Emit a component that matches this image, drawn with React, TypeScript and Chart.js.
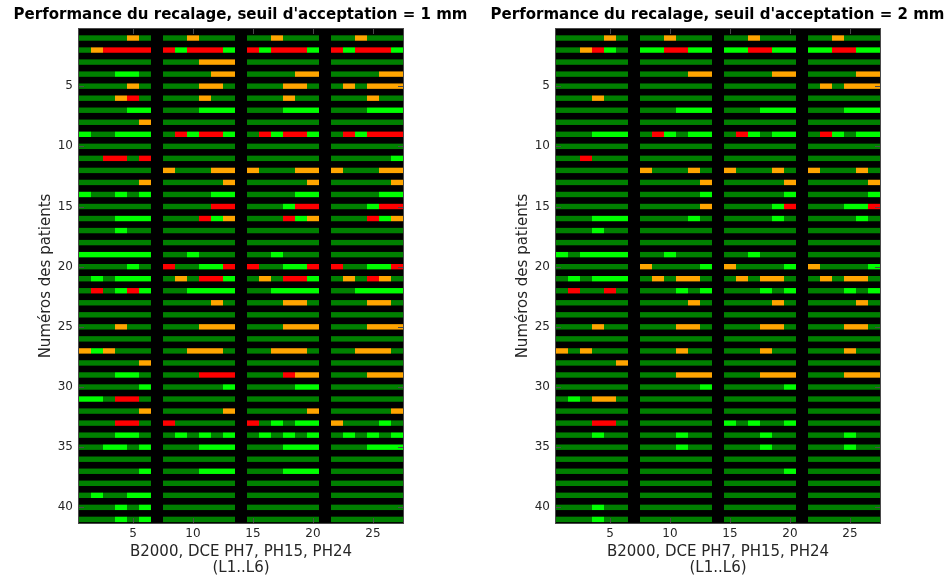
import React, { useEffect, useRef } from 'react';
import { Chart, registerables } from 'chart.js';

Chart.register(...registerables);

// Colour codes: G = OK (dark green), L = bright green, O = orange, R = red, '.' = black separator column
const PALETTE: Record<string, string> = { G: '#008000', L: '#00ff00', O: '#ffa500', R: '#ff0000' };

const xTicks = [5, 10, 15, 20, 25];
const yTicks = [5, 10, 15, 20, 25, 30, 35, 40];

const title1 = "Performance du recalage, seuil d'acceptation = 1 mm";
const title2 = "Performance du recalage, seuil d'acceptation = 2 mm";
const xLabel = ['B2000, DCE PH7, PH15, PH24', '(L1..L6)'];
const yLabel = 'Numéros des patients';

// Threshold 1 mm : one string per patient (27 columns)
const rows1mm = [
  'GGGGOG.GGOGGG.GGOGGG.GGOGGG',
  'GORRRR.RLRRRL.RLRRRL.RLRRRL',
  'GGGGGG.GGGOOO.GGGGGG.GGGGGG',
  'GGGLLG.GGGGOO.GGGGOO.GGGGOO',
  'GGGGOG.GGGOOG.GGGOOG.GOGOOO',
  'GGGORG.GGGOGG.GGGOGG.GGGOGG',
  'GGGGLL.GGGLLL.GGGLLL.GGGLLL',
  'GGGGGO.GGGGGG.GGGGGG.GGGGGG',
  'LGGLLL.GRLRRL.GRLRRL.GRLRRR',
  'GGGGGG.GGGGGG.GGGGGG.GGGGGG',
  'GGRRGR.GGGGGG.GGGGGG.GGGGGL',
  'GGGGGG.OGGGOO.OGGGOO.OGGGOO',
  'GGGGGO.GGGGGO.GGGGGO.GGGGGO',
  'LGGLGL.GGGGLL.GGGGLL.GGGGLL',
  'GGGGGG.GGGGRR.GGGLRR.GGGLRR',
  'GGGLLL.GGGRLO.GGGRLO.GGGRLO',
  'GGGLGG.GGGGGG.GGGGGG.GGGGGG',
  'GGGGGG.GGGGGG.GGGGGG.GGGGGG',
  'LLLLLL.GGLGGG.GGLGGG.GGGGGG',
  'GGGGLG.RGGLLR.RGGLLR.RGGLLR',
  'GLGLLL.GOGRRL.GOGRRL.GOGROG',
  'GRGLRL.GGLLLL.GGLLLL.GGLLLL',
  'GGGGGG.GGGGOG.GGGOOG.GGGOOG',
  'GGGGGG.GGGGGG.GGGGGG.GGGGGG',
  'GGGOGG.GGGOOO.GGGOOO.GGGOOO',
  'GGGGGG.GGGGGG.GGGGGG.GGGGGG',
  'OLOGGG.GGOOOG.GGOOOG.GGOOOG',
  'GGGGGO.GGGGGG.GGGGGG.GGGGGG',
  'GGGLLG.GGGRRR.GGGROO.GGGOOO',
  'GGGGGL.GGGGGL.GGGGLL.GGGGGG',
  'LLGRRG.GGGGGG.GGGGGG.GGGGGG',
  'GGGGGO.GGGGGO.GGGGGO.GGGGGO',
  'GGGRRG.RGGGGG.RGLGLL.OGGGLG',
  'GGGLLG.GLGLGL.GLGLGL.GLGLGL',
  'GGLLGL.GGGLLL.GGGLLL.GGGLLL',
  'GGGGGG.GGGGGG.GGGGGG.GGGGGG',
  'GGGGGL.GGGLLL.GGGLLL.GGGGGG',
  'GGGGGG.GGGGGG.GGGGGG.GGGGGG',
  'GLGGLL.GGGGGG.GGGGGG.GGGGGG',
  'GGGLGL.GGGGGG.GGGGGG.GGGGGG',
  'GGGLGL.GGGGGG.GGGGGG.GGGGGG',
];

// Threshold 2 mm
const rows2mm = [
  'GGGGOG.GGOGGG.GGOGGG.GGOGGG',
  'GGORLG.LLRRLL.LLRRLL.LLRRLL',
  'GGGGGG.GGGGGG.GGGGGG.GGGGGG',
  'GGGGGG.GGGGOO.GGGGOO.GGGGOO',
  'GGGGGG.GGGGGG.GGGGGG.GOGOOO',
  'GGGOGG.GGGGGG.GGGGGG.GGGGGG',
  'GGGGGG.GGGLLL.GGGLLL.GGGLLL',
  'GGGGGG.GGGGGG.GGGGGG.GGGGGG',
  'GGGLLL.GRLGLL.GRLGLL.GRLGLL',
  'GGGGGG.GGGGGG.GGGGGG.GGGGGG',
  'GGRGGG.GGGGGG.GGGGGG.GGGGGG',
  'GGGGGG.OGGGOG.OGGGOG.OGGGOG',
  'GGGGGG.GGGGGO.GGGGGO.GGGGGO',
  'GGGGGG.GGGGGL.GGGGGL.GGGGGL',
  'GGGGGG.GGGGGO.GGGGLR.GGGLLR',
  'GGGLLL.GGGGLG.GGGGLG.GGGGLG',
  'GGGLGG.GGGGGG.GGGGGG.GGGGGG',
  'GGGGGG.GGGGGG.GGGGGG.GGGGGG',
  'LGLLLL.GGLGGG.GGLGGG.GGGGGG',
  'GGGGGG.OGGGGL.OGGGGL.OGGGGL',
  'GLGLLL.GOGOOG.GOGOOG.GOGOOG',
  'GRGGRG.GGGLGL.GGGLGL.GGGLGL',
  'GGGGGG.GGGGOG.GGGGOG.GGGGOG',
  'GGGGGG.GGGGGG.GGGGGG.GGGGGG',
  'GGGOGG.GGGOOG.GGGOOG.GGGOOG',
  'GGGGGG.GGGGGG.GGGGGG.GGGGGG',
  'OGOGGG.GGGOGG.GGGOGG.GGGOGG',
  'GGGGGO.GGGGGG.GGGGGG.GGGGGG',
  'GGGGGG.GGGOOO.GGGOOO.GGGOOO',
  'GGGGGG.GGGGGL.GGGGGL.GGGGGG',
  'GLGOOG.GGGGGG.GGGGGG.GGGGGG',
  'GGGGGG.GGGGGG.GGGGGG.GGGGGG',
  'GGGRRG.GGGGGG.LGLGGL.GGGGGG',
  'GGGLGG.GGGLGG.GGGLGG.GGGLGG',
  'GGGGGG.GGGLGG.GGGLGG.GGGLGG',
  'GGGGGG.GGGGGG.GGGGGG.GGGGGG',
  'GGGGGG.GGGGGG.GGGGGL.GGGGGG',
  'GGGGGG.GGGGGG.GGGGGG.GGGGGG',
  'GGGGGG.GGGGGG.GGGGGG.GGGGGG',
  'GGGLGG.GGGGGG.GGGGGG.GGGGGG',
  'GGGLGG.GGGGGG.GGGGGG.GGGGGG',
];

const FONT = "'DejaVu Sans', sans-serif";
const TEXT = '#262626';
const FRAME = '#4a4a4a';
const CANVAS_W = 481;
const CANVAS_H = 581;

function buildCells(rows: string[]) {
  const data: { x: [number, number]; y: number }[] = [];
  const colors: string[] = [];
  rows.forEach((row, i) => {
    for (let c = 0; c < row.length; c++) {
      const k = row[c];
      if (!PALETTE[k]) continue;
      data.push({ x: [c + 0.5, c + 1.5], y: i + 1 });
      colors.push(PALETTE[k]);
    }
  });
  return { data, colors };
}

const framePlugin = {
  id: 'frame',
  beforeDatasetsDraw(chart: any) {
    const { ctx, chartArea: a } = chart;
    ctx.save();
    ctx.fillStyle = '#000';
    ctx.fillRect(a.left, a.top, a.right - a.left, a.bottom - a.top);
    ctx.restore();
  },
  afterDatasetsDraw(chart: any) {
    const { ctx, chartArea: a, scales } = chart;
    const L = 5;
    ctx.save();
    ctx.strokeStyle = FRAME;
    ctx.lineWidth = 1;
    ctx.beginPath();
    for (const v of xTicks) {
      const px = Math.round(scales.x.getPixelForValue(v)) + 0.5;
      ctx.moveTo(px, a.bottom);
      ctx.lineTo(px, a.bottom - L);
      ctx.moveTo(px, a.top);
      ctx.lineTo(px, a.top + L);
    }
    for (const v of yTicks) {
      const py = Math.round(scales.y.getPixelForValue(v)) + 0.5;
      ctx.moveTo(a.left, py);
      ctx.lineTo(a.left + L, py);
      ctx.moveTo(a.right, py);
      ctx.lineTo(a.right - L, py);
    }
    ctx.stroke();
    ctx.strokeRect(a.left - 0.5, a.top - 0.5, a.right - a.left + 1, a.bottom - a.top + 1);
    ctx.restore();
  },
};

function Panel({ rows, title, left }: { rows: string[]; title: string; left: number }) {
  const ref = useRef<HTMLCanvasElement>(null);
  useEffect(() => {
    const { data, colors } = buildCells(rows);
    const chart = new Chart(ref.current as HTMLCanvasElement, {
      type: 'bar',
      data: {
        datasets: [
          {
            data: data as any,
            backgroundColor: colors,
            borderWidth: 0,
            barThickness: 5.4,
            inflateAmount: 0,
            xAxisID: 'x',
            yAxisID: 'y',
          } as any,
        ],
      },
      options: {
        indexAxis: 'y',
        animation: false,
        responsive: false,
        maintainAspectRatio: false,
        devicePixelRatio: 1,
        layout: { padding: 0 },
        events: [],
        plugins: {
          legend: { display: false },
          tooltip: { enabled: false },
          title: {
            display: true,
            text: title,
            color: '#000',
            font: { family: FONT, size: 15, weight: 'bold', lineHeight: 1.2 },
            padding: { top: 6.5, bottom: 4.5 },
          },
        },
        scales: {
          x: {
            type: 'linear',
            position: 'bottom',
            min: 0.5,
            max: 27.5,
            offset: false,
            grid: { display: false, drawTicks: false },
            border: { display: false },
            ticks: { font: { family: FONT, size: 12 }, color: TEXT, padding: 4, maxRotation: 0, autoSkip: false },
            afterBuildTicks: (s: any) => {
              s.ticks = xTicks.map((v) => ({ value: v }));
            },
            afterFit: (s: any) => {
              s.height = 58;
            },
            title: {
              display: true,
              text: xLabel,
              color: TEXT,
              font: { family: FONT, size: 15, lineHeight: 1.1 },
              padding: { top: 0, bottom: 4.4 },
            },
          },
          y: {
            type: 'linear',
            position: 'left',
            reverse: true,
            min: 0.25,
            max: 41.3,
            offset: false,
            grid: { display: false, drawTicks: false },
            border: { display: false },
            ticks: { font: { family: FONT, size: 12 }, color: TEXT, padding: 6, autoSkip: false },
            afterBuildTicks: (s: any) => {
              s.ticks = yTicks.map((v) => ({ value: v }));
            },
            afterFit: (s: any) => {
              s.width = 79;
            },
            title: {
              display: true,
              text: yLabel,
              color: TEXT,
              font: { family: FONT, size: 15, lineHeight: 1.1 },
              padding: { top: 37.7, bottom: 0 },
            },
          },
          yR: {
            type: 'linear',
            position: 'right',
            display: true,
            grid: { display: false, drawTicks: false },
            border: { display: false },
            ticks: { display: false },
            afterFit: (s: any) => {
              s.width = 78;
            },
          },
        },
      } as any,
      plugins: [framePlugin],
    });
    return () => chart.destroy();
  }, [rows, title]);
  return (
    <canvas
      ref={ref}
      width={CANVAS_W}
      height={CANVAS_H}
      style={{ position: 'absolute', left, top: 0, width: CANVAS_W, height: CANVAS_H }}
    />
  );
}

export default function App() {
  return (
    <div
      style={{
        position: 'fixed',
        left: 0,
        top: 0,
        width: 951,
        height: 581,
        overflow: 'hidden',
        background: '#fff',
      }}
    >
      <Panel rows={rows1mm} title={title1} left={0} />
      <Panel rows={rows2mm} title={title2} left={477} />
    </div>
  );
}
